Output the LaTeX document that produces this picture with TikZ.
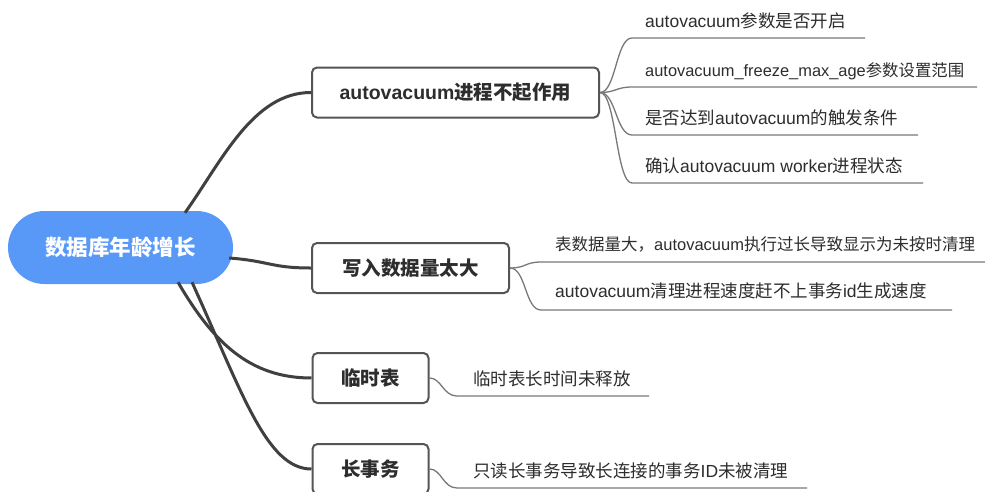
\documentclass[tikz,border=0pt]{standalone}
\usepackage{fontspec}
\setmainfont{Liberation Sans}
\newfontfamily\cjk{Noto Sans CJK SC}
\definecolor{rootblue}{RGB}{88,153,248}
\definecolor{boxgray}{RGB}{85,85,85}
\definecolor{linedark}{RGB}{64,64,64}
\definecolor{leafgray}{RGB}{120,120,120}
\definecolor{textdark}{RGB}{45,45,45}
\begin{document}
\begin{tikzpicture}[x=1pt,y=-1pt,
  rootnode/.style={fill=rootblue, draw=none, rounded corners=36.5pt, minimum width=225pt, minimum height=73pt, text=white, font=\cjk\bfseries\fontsize{21.5}{24}\selectfont, inner sep=0pt},
  topic/.style={draw=boxgray, line width=2pt, rounded corners=5pt, fill=white, font=\bfseries\fontsize{19.5}{22}\selectfont, text=textdark, inner sep=0pt, minimum height=50pt},
  leaf/.style={anchor=base west, inner sep=0pt, text=textdark, font=\fontsize{17.5}{20}\selectfont},
  mainline/.style={draw=linedark, line width=3pt},
  leafline/.style={draw=leafgray, line width=1.3pt}
]
\useasboundingbox[fill=white] (0,0) rectangle (985,491);

% root and topics
\node[rootnode] (root) at (120.5,247.5) {数据库年龄增长};
\node[topic, minimum width=287pt] (t1) at (455.5,92.5) {autovacuum{\cjk 进程不起作用}};
\node[topic, minimum width=197pt] (t2) at (410.5,268) {{\cjk 写入数据量太大}};
\node[topic, minimum width=116pt] (t3) at (370.5,378) {{\cjk 临时表}};
\node[topic, minimum width=116pt] (t4) at (370.5,469) {{\cjk 长事务}};

% main connectors
\draw[mainline] ([xshift=64.5pt,yshift=-2pt]root.north) .. controls +(37,-52) and +(-58,0) .. (t1.west);
\draw[mainline] ([xshift=-4pt,yshift=-10.5pt]root.east) .. controls +(40,3) and +(-40,0) .. (t2.west);
\draw[mainline] ([xshift=57.5pt,yshift=2pt]root.south) .. controls +(35,60) and +(-62,0) .. (t3.west);
\draw[mainline] ([xshift=71.5pt,yshift=2pt]root.south) .. controls +(50,110) and +(-45,0) .. (t4.west);

% underline coordinates
\coordinate (u1a) at (632,38);  \coordinate (u1b) at (865,38);
\coordinate (u2a) at (632,87);  \coordinate (u2b) at (977,87);
\coordinate (u3a) at (632,135); \coordinate (u3b) at (918,135);
\coordinate (u4a) at (632,183); \coordinate (u4b) at (923,183);
\coordinate (u5a) at (541,262); \coordinate (u5b) at (985,262);
\coordinate (u6a) at (541,310); \coordinate (u6b) at (952,310);
\coordinate (u7a) at (457,396); \coordinate (u7b) at (649,396);
\coordinate (u8a) at (457,488); \coordinate (u8b) at (807,488);

% leaf texts
\node[leaf] (l1) at (645,27) {autovacuum{\cjk 参数是否开启}};
\node[leaf, font=\fontsize{16.4}{19}\selectfont] (l2) at (645,76) {autovacuum\_freeze\_max\_age{\cjk 参数设置范围}};
\node[leaf] (l3) at (645,124) {{\cjk 是否达到}autovacuum{\cjk 的触发条件}};
\node[leaf] (l4) at (645,172) {{\cjk 确认}autovacuum worker{\cjk 进程状态}};
\node[leaf, font=\fontsize{16.5}{19}\selectfont] (l5) at (555,250) {{\cjk 表数据量大，}autovacuum{\cjk 执行过长导致显示为未按时清理}};
\node[leaf, font=\fontsize{17.5}{20}\selectfont] (l6) at (555,297) {autovacuum{\cjk 清理进程速度赶不上事务}id{\cjk 生成速度}};
\node[leaf] (l7) at (473,385) {{\cjk 临时表长时间未释放}};
\node[leaf] (l8) at (473,477) {{\cjk 只读长事务导致长连接的事务}ID{\cjk 未被清理}};

% leaf connectors
\draw[leafline] (t1.east) .. controls +(16,0) and +(-16,0) .. (u1a) -- (u1b);
\draw[leafline] (t1.east) .. controls +(16,0) and +(-16,0) .. (u2a) -- (u2b);
\draw[leafline] (t1.east) .. controls +(16,0) and +(-16,0) .. (u3a) -- (u3b);
\draw[leafline] (t1.east) .. controls +(16,0) and +(-16,0) .. (u4a) -- (u4b);
\draw[leafline] (t2.east) .. controls +(16,0) and +(-16,0) .. (u5a) -- (u5b);
\draw[leafline] (t2.east) .. controls +(16,0) and +(-16,0) .. (u6a) -- (u6b);
\draw[leafline] (t3.east) .. controls +(12,0) and +(-14,0) .. (u7a) -- (u7b);
\draw[leafline] (t4.east) .. controls +(12,0) and +(-14,0) .. (u8a) -- (u8b);
\end{tikzpicture}
\end{document}
